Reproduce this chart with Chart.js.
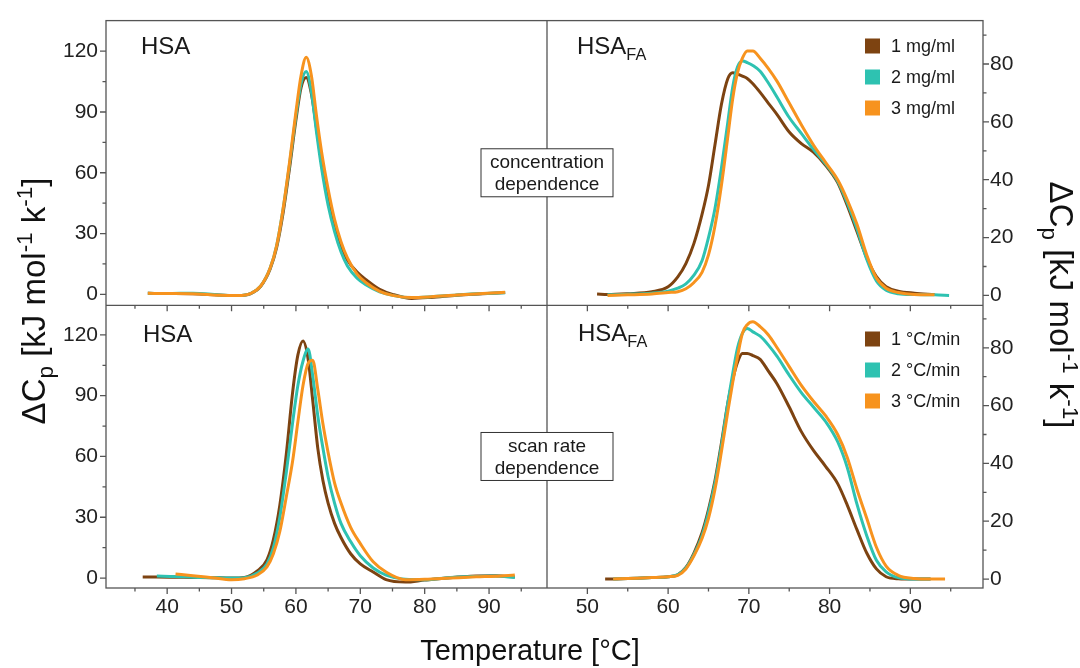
<!DOCTYPE html>
<html>
<head>
<meta charset="utf-8">
<script src="https://cdn.jsdelivr.net/npm/chart.js@4.4.1/dist/chart.umd.min.js"></script>
<style>
  html, body { margin: 0; padding: 0; background: #fff; }
  #wrap { width: 1080px; height: 668px; }
</style>
</head>
<body>
<div id="wrap"><canvas id="dsc" width="1080" height="668"></canvas></div>
<script>
// temperature grids [°C] and excess heat capacity [kJ mol-1 K-1]
const hsaConcT = [37, 40, 44, 48, 51, 53, 54.5, 56, 57, 58, 59, 60, 60.8, 61.6, 62.4, 63.2, 64, 65, 66, 67, 68, 69.5, 71, 73, 75, 78, 81, 85, 89, 92.5];
const hsaConc1 = [0.5, 0.4, 0.3, -0.3, -0.6, 0.4, 3.8, 12.5, 23, 40, 62, 86, 102, 107, 99, 82, 65, 48, 34, 24, 17, 11, 7, 2.5, 0, -2, -1.5, -0.4, 0.3, 0.9];
const hsaConc2 = [0.5, 0.4, 0.6, -0.3, -0.6, 0.5, 4, 13, 24, 42, 64, 88, 104, 110, 100, 80, 62, 44, 31, 21, 14, 8, 4.5, 1.2, -0.5, -1.6, -1.2, -0.3, 0.4, 0.8];
const hsaConc3 = [0.5, 0.4, 0.3, -0.4, -0.6, 0.5, 4, 13, 24, 42, 65, 90, 108, 117, 108, 88, 70, 52, 37, 26, 18, 10, 5.5, 1.5, -0.5, -1.6, -1.2, -0.3, 0.4, 1];

const hsaRateT = [36.2, 38.4, 41.3, 44, 47, 50, 52, 54, 55.5, 56.5, 57.5, 58.5, 59.5, 60.3, 61.1, 61.9, 62.6, 63.4, 64.2, 65, 66, 67, 68.5, 70, 72, 74, 77, 80, 84, 88, 91, 94];
const hsaRate1 = [0.5, 0.5, 0.4, 0.3, 0.2, 0, 0.3, 3.5, 9, 19, 36, 61, 92, 110, 117, 108, 88, 64, 48, 37, 27, 20, 12, 7, 3, -0.8, -2, -1, 0.2, 1, 1.2, 0.5];
const hsaRate2 = [null, 1, 0.8, 0.4, 0.2, 0, 0.2, 2.5, 7, 15, 30, 52, 77, 95, 107, 113, 100, 80, 64, 50, 37, 27, 18, 11, 5, 1.5, -0.6, -0.8, 0.3, 0.8, 1, 0.3];
const hsaRate3 = [null, null, 2, 1.2, 0.2, -0.8, -0.3, 1.5, 5.5, 12, 23, 40, 58, 77, 95, 106, 107.5, 93, 76, 62, 47, 37, 25, 17, 8, 3, -0.8, -0.6, 0, 0.6, 0.9, 1.5];

const faConcT = [51.2, 52.5, 55, 58, 60, 61.2, 62.2, 63.2, 64.2, 65, 65.8, 66.6, 67.4, 68, 68.6, 69.2, 69.8, 70.5, 71.4, 72.4, 73.5, 75, 76.5, 78, 79.5, 81, 82.2, 83.4, 84.6, 85.8, 87, 88.5, 90.5, 93, 94.8];
const faConc1 = [0.5, 0.3, 0.6, 1.3, 3, 6.4, 11, 18, 28, 38, 52, 66, 75, 77, 76.5, 75.8, 75, 73.2, 70.2, 66.5, 62.5, 56.5, 52.5, 49.5, 45, 39, 31, 22, 13, 6.5, 3, 1.5, 0.8, 0.3, null];
const faConc2 = [null, 0.2, 0.4, 0.8, 1.5, 2.5, 4, 7, 12, 20, 30, 44, 60, 72, 79, 81, 80.5, 79.5, 77.5, 73.5, 68.5, 61.5, 56, 50.5, 45.5, 39.5, 32, 23, 12.5, 5, 1.8, 0.6, 0.3, 0.2, 0];
const faConc3 = [null, 0, 0.2, 0.5, 1, 1.3, 2.3, 4.5, 8, 14, 24, 38, 55, 68, 77, 82, 84.5, 84.5, 82, 78.5, 74, 66.5, 59, 52, 46, 40, 33, 24.5, 14, 6, 2.5, 1, 0.3, 0.2, null];

const faRateT = [52.2, 53.2, 55, 58, 60, 61.2, 62.2, 63.2, 64.2, 65, 65.8, 66.6, 67.4, 68, 68.6, 69.2, 69.8, 70.5, 71.4, 72.4, 73.5, 75, 76.5, 78, 79.5, 81, 82.2, 83.4, 84.6, 85.8, 87, 88.5, 90.5, 92.5, 94.3];
const faRate1 = [0, 0, 0.2, 0.5, 0.8, 1.5, 4, 9, 16, 24, 34, 47, 61, 69, 75, 78, 78, 77.3, 76, 72, 67.5, 59.5, 51, 44.5, 39, 33, 25.5, 17, 9, 3.5, 0.8, 0.1, 0, 0, null];
const faRate2 = [null, 0, 0.2, 0.5, 0.8, 1.5, 3.8, 8.5, 15, 23, 33, 46, 61, 71, 80, 85, 86.7, 85.5, 84, 81, 77, 70.5, 64.5, 59.5, 54.5, 47.5, 38.5, 25.8, 15, 6.5, 2.5, 0.5, 0, 0, null];
const faRate3 = [null, 0, 0.2, 0.5, 0.8, 1.3, 3.5, 8, 14, 21, 31, 44, 58, 68, 77, 85, 88, 89, 87.3, 84.5, 80, 73.5, 67, 61.5, 56.5, 50, 42, 31, 21, 11, 4.5, 1.3, 0.2, 0, 0];

const concLabels = ['1 mg/ml', '2 mg/ml', '3 mg/ml'];
const rateLabels = ['1 °C/min', '2 °C/min', '3 °C/min'];

const xLeftTicks = [35, 40, 45, 50, 55, 60, 65, 70, 75, 80, 85, 90, 95];
const xLeftLabels = [40, 50, 60, 70, 80, 90];
const xRightTicks = [50, 55, 60, 65, 70, 75, 80, 85, 90, 95];
const xRightLabels = [50, 60, 70, 80, 90];
const yLeftTicks = [0, 15, 30, 45, 60, 75, 90, 105, 120];
const yLeftLabels = [0, 30, 60, 90, 120];
const yRightTicks = [0, 10, 20, 30, 40, 50, 60, 70, 80, 90];
const yRightLabels = [0, 20, 40, 60, 80];

const colors = ['#7d4311', '#2ec2b1', '#f7931e'];
const FONT = "'Liberation Sans', Arial, Helvetica, sans-serif";
Chart.defaults.font.family = FONT;
Chart.defaults.color = '#222';

function curve(T, cp) {
  return T.map((t, i) => ({ x: t, y: cp[i] })).filter(p => p.y !== null);
}

function series(label, T, cp, i, xId, yId) {
  return {
    label, data: curve(T, cp), xAxisID: xId, yAxisID: yId,
    borderColor: colors[i], backgroundColor: colors[i],
    borderWidth: 3, pointRadius: 0, showLine: true,
    cubicInterpolationMode: 'monotone', order: 3 - i
  };
}

function axis(values, labels, pad, extra) {
  return Object.assign({
    type: 'linear',
    afterBuildTicks: s => { s.ticks = values.map(v => ({ value: v })); },
    ticks: { autoSkip: false, maxRotation: 0, padding: pad, font: { size: 21 },
             callback: v => labels.includes(v) ? String(v) : '' },
    grid: { display: false, drawTicks: false },
    border: { display: false }
  }, extra);
}

// sub/superscript text runs
function rich(ctx, parts, x, y, size, align) {
  const small = size * 0.68;
  const w = parts.map(([t, k]) => { ctx.font = (k ? small : size) + 'px ' + FONT; return ctx.measureText(t).width; });
  let cx = align === 'center' ? x - w.reduce((a, b) => a + b, 0) / 2 : x;
  parts.forEach(([t, k], i) => {
    ctx.font = (k ? small : size) + 'px ' + FONT;
    const dy = k === 'sub' ? size * 0.25 : k === 'sup' ? -size * 0.4 : 0;
    ctx.fillText(t, cx, y + dy);
    cx += w[i];
  });
}

const cpTitle = [['\u0394C', ''], ['p', 'sub'], [' [kJ mol', ''], ['-1', 'sup'], [' k', ''], ['-1', 'sup'], [']', '']];

const frame = {
  id: 'frame',
  beforeDatasetsDraw(chart) {
    const { ctx, chartArea: a, scales: s } = chart;
    const midX = s.xL.right, midY = s.yLT.bottom;
    ctx.save();
    ctx.strokeStyle = '#555';
    ctx.lineWidth = 1.3;
    ctx.strokeRect(a.left, a.top, a.width, a.height);
    ctx.beginPath();
    ctx.moveTo(midX, a.top); ctx.lineTo(midX, a.bottom);
    ctx.moveTo(a.left, midY); ctx.lineTo(a.right, midY);
    ['xL', 'xR'].forEach(id => s[id].ticks.forEach(t => {
      const px = s[id].getPixelForValue(t.value), len = t.label ? 6 : 3.5;
      ctx.moveTo(px, a.bottom); ctx.lineTo(px, a.bottom + len);
      ctx.moveTo(px, midY); ctx.lineTo(px, midY + len);
    }));
    ['yLT', 'yLB'].forEach(id => s[id].ticks.forEach(t => {
      const py = s[id].getPixelForValue(t.value), len = t.label ? 6 : 3.5;
      ctx.moveTo(a.left - len, py); ctx.lineTo(a.left, py);
    }));
    ['yRT', 'yRB'].forEach(id => s[id].ticks.forEach(t => {
      const py = s[id].getPixelForValue(t.value), len = t.label ? 6 : 3.5;
      ctx.moveTo(a.right, py); ctx.lineTo(a.right + len, py);
    }));
    ctx.stroke();
    ctx.restore();
  },
  afterDraw(chart) {
    const { ctx, scales: s } = chart;
    const midX = s.xL.right;
    ctx.save();
    ctx.fillStyle = '#1a1a1a';
    ctx.textBaseline = 'alphabetic';
    // panel names
    rich(ctx, [['HSA', '']], 141, 54, 24);
    rich(ctx, [['HSA', ''], ['FA', 'sub']], 577, 54, 24);
    rich(ctx, [['HSA', '']], 143, 342, 24);
    rich(ctx, [['HSA', ''], ['FA', 'sub']], 578, 341, 24);

    // legends
    const legend = (labels, y0) => labels.forEach((lab, i) => {
      const cy = y0 + i * 31;
      ctx.fillStyle = colors[i];
      ctx.fillRect(865, cy - 7.5, 15, 15);
      ctx.fillStyle = '#1a1a1a';
      ctx.font = '18px ' + FONT;
      ctx.textBaseline = 'middle';
      ctx.fillText(lab, 891, cy + 1);
    });
    legend(concLabels, 46);
    legend(rateLabels, 339);

    // boxed notes on the divider
    const note = (lines, cy) => {
      ctx.fillStyle = '#fff';
      ctx.fillRect(midX - 66, cy - 24, 132, 48);
      ctx.strokeStyle = '#333';
      ctx.lineWidth = 1;
      ctx.strokeRect(midX - 66, cy - 24, 132, 48);
      ctx.fillStyle = '#1a1a1a';
      ctx.font = '19px ' + FONT;
      ctx.textAlign = 'center';
      ctx.textBaseline = 'middle';
      ctx.fillText(lines[0], midX, cy - 10);
      ctx.fillText(lines[1], midX, cy + 12);
      ctx.textAlign = 'left';
    };
    note(['concentration', 'dependence'], s.yLT.getPixelForValue(60));
    note(['scan rate', 'dependence'], s.yLB.getPixelForValue(60));

    // axis titles
    ctx.fillStyle = '#111';
    ctx.textBaseline = 'alphabetic';
    ctx.font = '29px ' + FONT;
    ctx.textAlign = 'center';
    ctx.fillText('Temperature [°C]', 530, 660);
    ctx.textAlign = 'left';

    ctx.save();
    ctx.translate(45, 301);
    ctx.rotate(-Math.PI / 2);
    rich(ctx, cpTitle, 0, 0, 33, 'center');
    ctx.restore();

    ctx.save();
    ctx.translate(1050, 305);
    ctx.rotate(Math.PI / 2);
    rich(ctx, cpTitle, 0, 0, 33, 'center');
    ctx.restore();
    ctx.restore();
  }
};

new Chart(document.getElementById('dsc'), {
  type: 'scatter',
  data: {
    datasets: [
      series(concLabels[0], hsaConcT, hsaConc1, 0, 'xL', 'yLT'),
      series(concLabels[1], hsaConcT, hsaConc2, 1, 'xL', 'yLT'),
      series(concLabels[2], hsaConcT, hsaConc3, 2, 'xL', 'yLT'),
      series(concLabels[0], faConcT, faConc1, 0, 'xR', 'yRT'),
      series(concLabels[1], faConcT, faConc2, 1, 'xR', 'yRT'),
      series(concLabels[2], faConcT, faConc3, 2, 'xR', 'yRT'),
      series(rateLabels[0], hsaRateT, hsaRate1, 0, 'xL', 'yLB'),
      series(rateLabels[1], hsaRateT, hsaRate2, 1, 'xL', 'yLB'),
      series(rateLabels[2], hsaRateT, hsaRate3, 2, 'xL', 'yLB'),
      series(rateLabels[0], faRateT, faRate1, 0, 'xR', 'yRB'),
      series(rateLabels[1], faRateT, faRate2, 1, 'xR', 'yRB'),
      series(rateLabels[2], faRateT, faRate3, 2, 'xR', 'yRB')
    ]
  },
  options: {
    responsive: false,
    animation: false,
    layout: { padding: { top: 14, left: 0, right: 0, bottom: 0 } },
    plugins: { legend: { display: false }, tooltip: { enabled: false } },
    scales: {
      xL: axis(xLeftTicks, xLeftLabels, 7, { position: 'bottom', stack: 'x', stackWeight: 441, weight: 0, min: 30.5, max: 99, afterFit: s => { s.height = 80; } }),
      xR: axis(xRightTicks, xRightLabels, 7, { position: 'bottom', stack: 'x', stackWeight: 436, weight: 1, min: 45, max: 99, afterFit: s => { s.height = 80; } }),
      yLT: axis(yLeftTicks, yLeftLabels, 8, { position: 'left', stack: 'yl', stackWeight: 288, weight: 1, min: -5.4, max: 135.1, afterFit: s => { s.width = 106; } }),
      yLB: axis(yLeftTicks, yLeftLabels, 8, { position: 'left', stack: 'yl', stackWeight: 286, weight: 0, min: -4.9, max: 134.6, afterFit: s => { s.width = 106; } }),
      yRT: axis(yRightTicks, yRightLabels, 7, { position: 'right', stack: 'yr', stackWeight: 288, weight: 0, min: -3.4, max: 95, afterFit: s => { s.width = 97; } }),
      yRB: axis(yRightTicks, yRightLabels, 7, { position: 'right', stack: 'yr', stackWeight: 286, weight: 1, min: -3.1, max: 94.7, afterFit: s => { s.width = 97; } })
    }
  },
  plugins: [frame]
});
</script>
</body>
</html>
